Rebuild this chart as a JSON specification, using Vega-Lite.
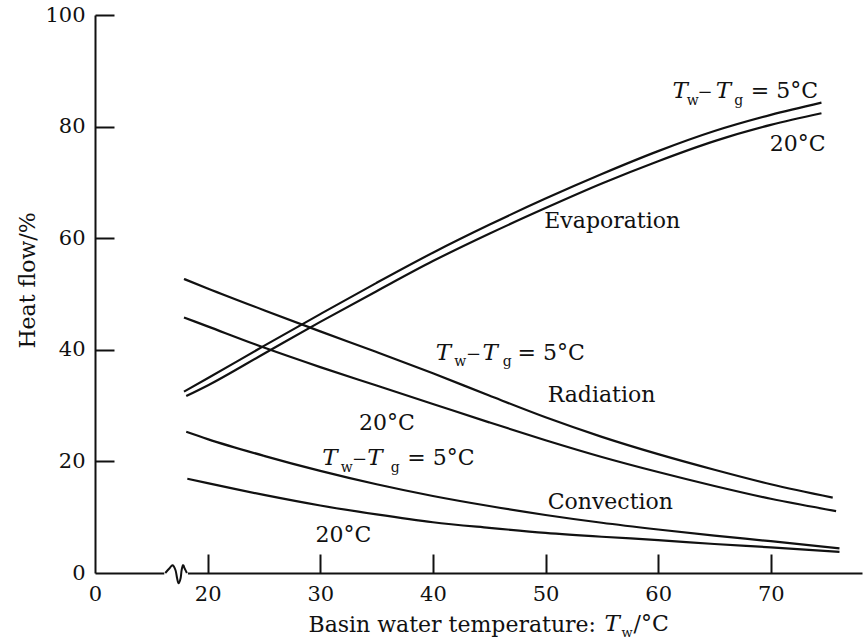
{
  "$schema": "https://vega.github.io/schema/vega-lite/v6.json",
  "width": 767,
  "height": 558,
  "autosize": {"type": "none"},
  "padding": {"left": 95, "top": 15, "right": 6, "bottom": 67},
  "background": "white",
  "config": {"view": {"stroke": null}, "font": "DejaVu Serif"},
  "resolve": {"axis": {"x": "independent", "y": "independent"}},
  "datasets": {
    "curves": [
      {"s": "Evaporation 5", "T": 17.9, "v": 32.5}, {"s": "Evaporation 5", "T": 20, "v": 34.9}, {"s": "Evaporation 5", "T": 25, "v": 40.7}, {"s": "Evaporation 5", "T": 30, "v": 46.4}, {"s": "Evaporation 5", "T": 35, "v": 52.0}, {"s": "Evaporation 5", "T": 40, "v": 57.4}, {"s": "Evaporation 5", "T": 45, "v": 62.4}, {"s": "Evaporation 5", "T": 50, "v": 67.1}, {"s": "Evaporation 5", "T": 55, "v": 71.5}, {"s": "Evaporation 5", "T": 60, "v": 75.6}, {"s": "Evaporation 5", "T": 65, "v": 79.2}, {"s": "Evaporation 5", "T": 70, "v": 82.1}, {"s": "Evaporation 5", "T": 74.5, "v": 84.3},
      {"s": "Evaporation 20", "T": 18.1, "v": 31.7}, {"s": "Evaporation 20", "T": 20, "v": 33.6}, {"s": "Evaporation 20", "T": 25, "v": 39.3}, {"s": "Evaporation 20", "T": 30, "v": 45.0}, {"s": "Evaporation 20", "T": 35, "v": 50.5}, {"s": "Evaporation 20", "T": 40, "v": 55.9}, {"s": "Evaporation 20", "T": 45, "v": 60.8}, {"s": "Evaporation 20", "T": 50, "v": 65.4}, {"s": "Evaporation 20", "T": 55, "v": 69.8}, {"s": "Evaporation 20", "T": 60, "v": 73.8}, {"s": "Evaporation 20", "T": 65, "v": 77.4}, {"s": "Evaporation 20", "T": 70, "v": 80.3}, {"s": "Evaporation 20", "T": 74.5, "v": 82.4},
      {"s": "Radiation 5", "T": 17.9, "v": 52.7}, {"s": "Radiation 5", "T": 20, "v": 51.0}, {"s": "Radiation 5", "T": 25, "v": 47.1}, {"s": "Radiation 5", "T": 30, "v": 43.3}, {"s": "Radiation 5", "T": 35, "v": 39.6}, {"s": "Radiation 5", "T": 40, "v": 35.8}, {"s": "Radiation 5", "T": 45, "v": 31.8}, {"s": "Radiation 5", "T": 50, "v": 27.9}, {"s": "Radiation 5", "T": 55, "v": 24.4}, {"s": "Radiation 5", "T": 60, "v": 21.3}, {"s": "Radiation 5", "T": 65, "v": 18.5}, {"s": "Radiation 5", "T": 70, "v": 15.9}, {"s": "Radiation 5", "T": 75.5, "v": 13.5},
      {"s": "Radiation 20", "T": 17.9, "v": 45.8}, {"s": "Radiation 20", "T": 20, "v": 44.2}, {"s": "Radiation 20", "T": 25, "v": 40.4}, {"s": "Radiation 20", "T": 30, "v": 36.9}, {"s": "Radiation 20", "T": 35, "v": 33.6}, {"s": "Radiation 20", "T": 40, "v": 30.3}, {"s": "Radiation 20", "T": 45, "v": 27.0}, {"s": "Radiation 20", "T": 50, "v": 23.8}, {"s": "Radiation 20", "T": 55, "v": 20.8}, {"s": "Radiation 20", "T": 60, "v": 18.1}, {"s": "Radiation 20", "T": 65, "v": 15.6}, {"s": "Radiation 20", "T": 70, "v": 13.3}, {"s": "Radiation 20", "T": 75.8, "v": 11.1},
      {"s": "Convection 5", "T": 18.1, "v": 25.3}, {"s": "Convection 5", "T": 20, "v": 24.0}, {"s": "Convection 5", "T": 25, "v": 21.0}, {"s": "Convection 5", "T": 30, "v": 18.3}, {"s": "Convection 5", "T": 35, "v": 15.9}, {"s": "Convection 5", "T": 40, "v": 13.8}, {"s": "Convection 5", "T": 45, "v": 12.0}, {"s": "Convection 5", "T": 50, "v": 10.4}, {"s": "Convection 5", "T": 55, "v": 9.0}, {"s": "Convection 5", "T": 60, "v": 7.8}, {"s": "Convection 5", "T": 65, "v": 6.7}, {"s": "Convection 5", "T": 70, "v": 5.7}, {"s": "Convection 5", "T": 76.1, "v": 4.4},
      {"s": "Convection 20", "T": 18.2, "v": 16.9}, {"s": "Convection 20", "T": 20, "v": 16.1}, {"s": "Convection 20", "T": 25, "v": 14.0}, {"s": "Convection 20", "T": 30, "v": 12.1}, {"s": "Convection 20", "T": 35, "v": 10.5}, {"s": "Convection 20", "T": 40, "v": 9.1}, {"s": "Convection 20", "T": 45, "v": 8.1}, {"s": "Convection 20", "T": 50, "v": 7.2}, {"s": "Convection 20", "T": 55, "v": 6.5}, {"s": "Convection 20", "T": 60, "v": 5.9}, {"s": "Convection 20", "T": 65, "v": 5.2}, {"s": "Convection 20", "T": 70, "v": 4.6}, {"s": "Convection 20", "T": 76.1, "v": 3.8}
    ],
    "gap": [{"T": 16.15, "v": 0}, {"T": 18.25, "v": 0}],
    "squiggle": [
      {"T": 16.24, "v": 0}, {"T": 16.62, "v": 0.85}, {"T": 16.89, "v": 1.4}, {"T": 17.15, "v": 0.5}, {"T": 17.29, "v": -0.95}, {"T": 17.42, "v": -1.85}, {"T": 17.6, "v": -0.95}, {"T": 17.69, "v": 0.5}, {"T": 17.82, "v": 1.4}, {"T": 17.95, "v": 0.85}, {"T": 18.16, "v": 0}
    ],
    "labels": [
      {"k": "i", "T": 61.28, "v": 85.1, "label": "T"}, {"k": "s", "T": 62.53, "v": 83.8, "label": "w"}, {"k": "m", "T": 63.5, "v": 85.1, "label": "−"}, {"k": "i", "T": 65.11, "v": 85.1, "label": "T"}, {"k": "s", "T": 66.75, "v": 83.8, "label": "g"}, {"k": "n", "T": 68.22, "v": 85.1, "label": "= 5°C"},
      {"k": "n", "T": 69.91, "v": 75.6, "label": "20°C"},
      {"k": "n", "T": 49.89, "v": 61.9, "label": "Evaporation"},
      {"k": "i", "T": 40.26, "v": 38.15, "label": "T"}, {"k": "s", "T": 41.89, "v": 37.1, "label": "w"}, {"k": "m", "T": 42.95, "v": 38.15, "label": "−"}, {"k": "i", "T": 44.4, "v": 38.15, "label": "T"}, {"k": "s", "T": 46.2, "v": 37.1, "label": "g"}, {"k": "n", "T": 47.52, "v": 38.15, "label": "= 5°C"},
      {"k": "n", "T": 50.19, "v": 30.66, "label": "Radiation"},
      {"k": "n", "T": 33.43, "v": 25.6, "label": "20°C"},
      {"k": "i", "T": 30.17, "v": 19.3, "label": "T"}, {"k": "s", "T": 31.81, "v": 18.1, "label": "w"}, {"k": "m", "T": 32.81, "v": 19.3, "label": "−"}, {"k": "i", "T": 34.17, "v": 19.3, "label": "T"}, {"k": "s", "T": 36.25, "v": 18.1, "label": "g"}, {"k": "n", "T": 37.73, "v": 19.3, "label": "= 5°C"},
      {"k": "n", "T": 50.19, "v": 11.55, "label": "Convection"},
      {"k": "n", "T": 29.58, "v": 5.56, "label": "20°C"},
      {"k": "i", "T": 55.23, "v": -10.45, "label": "T"}, {"k": "t", "T": 56.74, "v": -11.53, "label": "w"}, {"k": "n", "T": 57.81, "v": -10.45, "label": "/°C"}
    ]
  },
  "layer": [
    {
      "data": {"name": "gap"},
      "mark": {"type": "line", "stroke": "white", "strokeWidth": 6},
      "encoding": {
        "x": {
          "field": "T", "type": "quantitative",
          "scale": {"domain": [10, 78.1], "nice": false, "zero": false},
          "axis": {
            "orient": "bottom",
            "title": "Basin water temperature:",
            "values": [10, 20, 30, 40, 50, 60, 70],
            "labelExpr": "datum.value == 10 ? '0' : datum.label",
            "format": "d",
            "labelFlush": false, "labelOverlap": false, "grid": false, "ticks": false,
            "domainColor": "#111", "domainWidth": 2,
            "labelPadding": 10, "labelFont": "DejaVu Serif", "labelFontSize": 21, "labelColor": "#111",
            "titleFont": "DejaVu Serif", "titleFontSize": 22, "titleFontWeight": "normal", "titleColor": "#111",
            "titleX": 213, "titleY": 58, "titleAlign": "left", "titleBaseline": "alphabetic"
          }
        },
        "y": {
          "field": "v", "type": "quantitative",
          "scale": {"domain": [0, 100], "nice": false, "zero": false},
          "axis": {
            "orient": "left",
            "title": "Heat flow/%",
            "values": [0, 20, 40, 60, 80, 100],
            "labelOverlap": false, "grid": false, "ticks": false,
            "domainColor": "#111", "domainWidth": 2,
            "labelPadding": 10, "labelFont": "DejaVu Serif", "labelFontSize": 21, "labelColor": "#111",
            "titleFont": "DejaVu Serif", "titleFontSize": 22, "titleFontWeight": "normal", "titleColor": "#111",
            "titleX": -68, "titleY": 265, "titleAngle": 270, "titleAlign": "center", "titleBaseline": "middle"
          }
        }
      }
    },
    {
      "data": {"name": "squiggle"},
      "mark": {"type": "line", "stroke": "#111", "strokeWidth": 2, "interpolate": "cardinal"},
      "encoding": {
        "x": {
          "field": "T", "type": "quantitative",
          "scale": {"domain": [10, 78.1], "nice": false, "zero": false},
          "axis": {"orient": "top", "offset": -558, "values": [20, 30, 40, 50, 60, 70], "labels": false, "domain": false, "grid": false, "ticks": true, "tickSize": 19, "tickWidth": 2, "tickColor": "#111", "title": null}
        },
        "y": {
          "field": "v", "type": "quantitative",
          "scale": {"domain": [0, 100], "nice": false, "zero": false},
          "axis": {"orient": "right", "offset": -767, "values": [20, 40, 60, 80, 100], "labels": false, "domain": false, "grid": false, "ticks": true, "tickSize": 19, "tickWidth": 2, "tickColor": "#111", "title": null}
        }
      }
    },
    {
      "data": {"name": "curves"},
      "mark": {"type": "line", "stroke": "#111", "strokeWidth": 2.2, "interpolate": "monotone"},
      "encoding": {
        "x": {"field": "T", "type": "quantitative", "axis": null},
        "y": {"field": "v", "type": "quantitative", "axis": null},
        "detail": {"field": "s"}
      }
    },
    {
      "data": {"name": "labels"},
      "transform": [{"filter": "datum.k == 'n'"}],
      "mark": {"type": "text", "align": "left", "baseline": "alphabetic", "font": "DejaVu Serif", "fontSize": 22, "color": "#111"},
      "encoding": {"x": {"field": "T", "type": "quantitative", "axis": null}, "y": {"field": "v", "type": "quantitative", "axis": null}, "text": {"field": "label"}}
    },
    {
      "data": {"name": "labels"},
      "transform": [{"filter": "datum.k == 'm'"}],
      "mark": {"type": "text", "align": "left", "baseline": "alphabetic", "font": "DejaVu Serif", "fontSize": 18, "color": "#111"},
      "encoding": {"x": {"field": "T", "type": "quantitative", "axis": null}, "y": {"field": "v", "type": "quantitative", "axis": null}, "text": {"field": "label"}}
    },
    {
      "data": {"name": "labels"},
      "transform": [{"filter": "datum.k == 'i'"}],
      "mark": {"type": "text", "align": "left", "baseline": "alphabetic", "font": "DejaVu Serif", "fontStyle": "italic", "fontSize": 23, "color": "#111"},
      "encoding": {"x": {"field": "T", "type": "quantitative", "axis": null}, "y": {"field": "v", "type": "quantitative", "axis": null}, "text": {"field": "label"}}
    },
    {
      "data": {"name": "labels"},
      "transform": [{"filter": "datum.k == 's'"}],
      "mark": {"type": "text", "align": "left", "baseline": "alphabetic", "font": "DejaVu Serif", "fontSize": 14, "color": "#111"},
      "encoding": {"x": {"field": "T", "type": "quantitative", "axis": null}, "y": {"field": "v", "type": "quantitative", "axis": null}, "text": {"field": "label"}}
    },
    {
      "data": {"name": "labels"},
      "transform": [{"filter": "datum.k == 't'"}],
      "mark": {"type": "text", "align": "left", "baseline": "alphabetic", "font": "DejaVu Serif", "fontSize": 13, "color": "#111"},
      "encoding": {"x": {"field": "T", "type": "quantitative", "axis": null}, "y": {"field": "v", "type": "quantitative", "axis": null}, "text": {"field": "label"}}
    }
  ]
}
